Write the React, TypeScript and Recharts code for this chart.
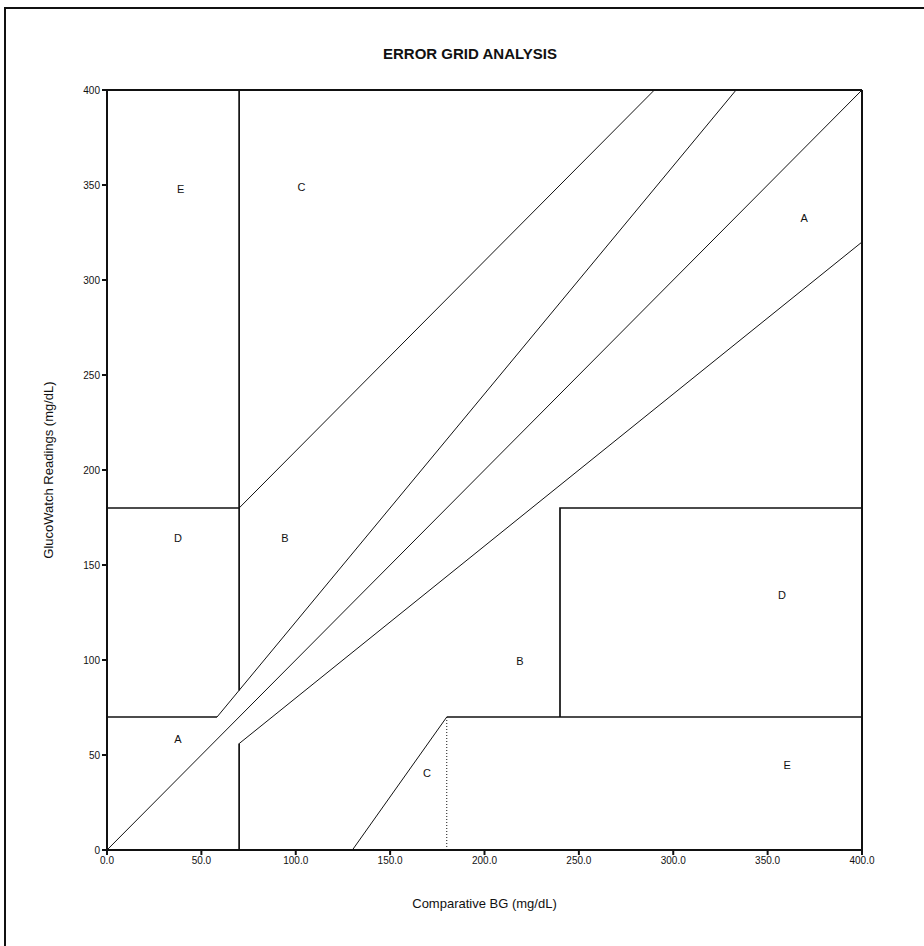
import React from 'react';
import { ComposedChart, Line, XAxis, YAxis, ReferenceLine, ReferenceDot } from 'recharts';

const xTicks = [0, 50, 100, 150, 200, 250, 300, 350, 400];
const yTicks = [0, 50, 100, 150, 200, 250, 300, 350, 400];

const identityLine = [{ x: 0, y: 0 }, { x: 400, y: 400 }];
const upperAShelf = [{ x: 0, y: 70 }, { x: 58.3, y: 70 }];
const upperABoundary = [{ x: 58.3, y: 70 }, { x: 333.3, y: 400 }];
const lowerAWall = [{ x: 70, y: 0 }, { x: 70, y: 56 }];
const lowerABoundary = [{ x: 70, y: 56 }, { x: 400, y: 320 }];
const upperBShelf = [{ x: 0, y: 180 }, { x: 70, y: 180 }];
const upperBBoundary = [{ x: 70, y: 180 }, { x: 290, y: 400 }];
const upperEBoundary = [{ x: 70, y: 84 }, { x: 70, y: 400 }];
const lowerCBoundary = [{ x: 130, y: 0 }, { x: 180, y: 70 }];
const lowerEShelf = [{ x: 180, y: 70 }, { x: 400, y: 70 }];
const lowerCDivider = [{ x: 180, y: 0 }, { x: 180, y: 70 }];
const lowerDBoundary = [{ x: 240, y: 70 }, { x: 240, y: 180 }, { x: 400, y: 180 }];

const zoneNames = ['E', 'C', 'D', 'B', 'A', 'B', 'E', 'A', 'D', 'C'];
const zoneX = [39, 103, 37.6, 94.3, 37.6, 218.8, 360.3, 369.3, 357.6, 169.5];
const zoneY = [348, 349, 164, 164, 58.4, 99.5, 44.7, 332.6, 134.2, 40.5];

const FONT = '"Liberation Sans", Arial, sans-serif';

export default function App() {
  const lineProps = {
    type: 'linear' as const,
    dataKey: 'y',
    stroke: '#111',
    dot: false,
    activeDot: false,
    isAnimationActive: false,
  };
  return (
    <div style={{ position: 'absolute', left: 0, top: 0, width: 924, height: 946, background: '#fff', fontFamily: FONT }}>
      <div style={{ position: 'absolute', left: 4, top: 7, right: -10, bottom: -10, borderLeft: '2px solid #111', borderTop: '2px solid #111' }} />
      <div style={{ position: 'absolute', left: 0, width: 940, top: 45, textAlign: 'center', fontWeight: 'bold', fontSize: 15, color: '#111' }}>
        ERROR GRID ANALYSIS
      </div>
      <ComposedChart width={924} height={946} margin={{ top: 90, right: 62, bottom: 66, left: 20 }}>
        <XAxis
          type="number"
          dataKey="x"
          domain={[0, 400]}
          ticks={xTicks}
          allowDataOverflow
          tickFormatter={(v: number) => v.toFixed(1)}
          height={30}
          tickSize={5}
          stroke="#111"
          strokeWidth={2}
          tick={{ fill: '#111', fontSize: 10, fontFamily: FONT }}
          label={{ value: 'Comparative BG (mg/dL)', position: 'bottom', offset: 19, fill: '#111', fontSize: 13, fontFamily: FONT }}
        />
        <YAxis
          type="number"
          dataKey="y"
          domain={[0, 400]}
          ticks={yTicks}
          allowDataOverflow
          width={87}
          tickSize={5}
          stroke="#111"
          strokeWidth={2}
          tick={{ fill: '#111', fontSize: 10, fontFamily: FONT }}
          label={{ value: 'GlucoWatch Readings (mg/dL)', angle: -90, position: 'insideLeft', offset: 28, fill: '#111', fontSize: 13, fontFamily: FONT, style: { textAnchor: 'middle' } }}
        />
        <ReferenceLine y={400} stroke="#111" strokeWidth={2} />
        <ReferenceLine x={400} stroke="#111" strokeWidth={2} />
        <Line {...lineProps} data={identityLine} strokeWidth={1} />
        <Line {...lineProps} data={upperAShelf} strokeWidth={1.7} />
        <Line {...lineProps} data={upperABoundary} strokeWidth={1} />
        <Line {...lineProps} data={lowerAWall} strokeWidth={1.7} />
        <Line {...lineProps} data={lowerABoundary} strokeWidth={1} />
        <Line {...lineProps} data={upperBShelf} strokeWidth={1.7} />
        <Line {...lineProps} data={upperBBoundary} strokeWidth={1} />
        <Line {...lineProps} data={upperEBoundary} strokeWidth={1.7} />
        <Line {...lineProps} data={lowerCBoundary} strokeWidth={1} />
        <Line {...lineProps} data={lowerEShelf} strokeWidth={1.7} />
        <Line {...lineProps} data={lowerCDivider} strokeWidth={1} strokeDasharray="1 2" />
        <Line {...lineProps} data={lowerDBoundary} strokeWidth={1.7} />
        {zoneNames.map((n, i) => (
          <ReferenceDot
            key={i}
            x={zoneX[i]}
            y={zoneY[i]}
            r={0}
            fill="none"
            stroke="none"
            label={{ value: n, position: 'center', fill: '#111', fontSize: 11, fontFamily: FONT }}
          />
        ))}
      </ComposedChart>
    </div>
  );
}
